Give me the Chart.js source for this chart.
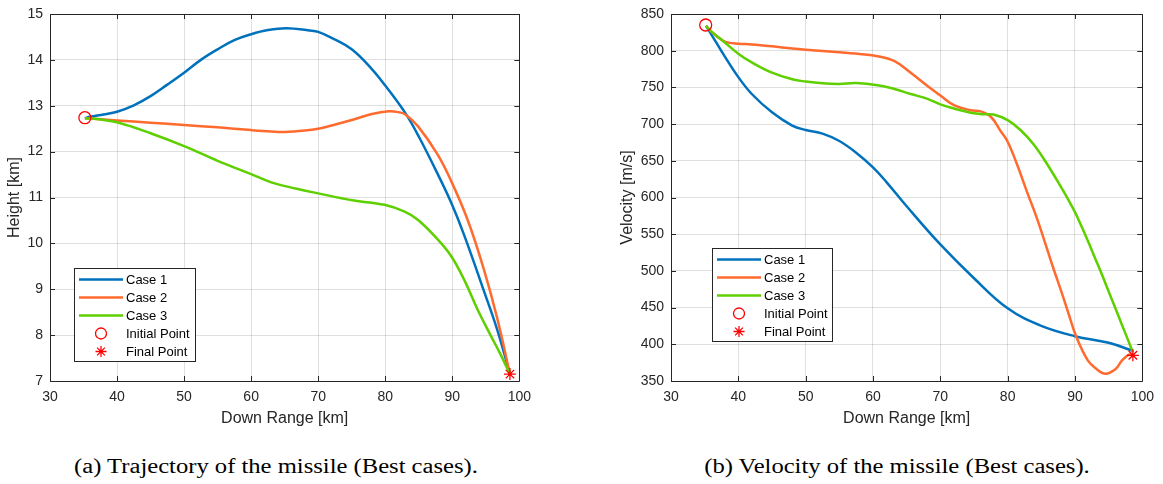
<!DOCTYPE html>
<html>
<head>
<meta charset="utf-8">
<script src="https://cdn.jsdelivr.net/npm/chart.js@4/dist/chart.umd.min.js"></script>
<style>
  body { margin: 0; background: #fff; }
  #page { position: relative; width: 1163px; height: 484px; overflow: hidden; background: #fff; }
  canvas { position: absolute; top: 0; }
  .caption {
    position: absolute; top: 456px; width: 500px; text-align: center;
    font-family: "Liberation Serif", "Times New Roman", serif; font-size: 20px; line-height: 20px;
    color: #000; transform: scaleX(1.23); white-space: nowrap;
  }
</style>
</head>
<body>
<div id="page">
  <canvas id="heightChart" width="540" height="430" style="left:0px"></canvas>
  <canvas id="velocityChart" width="548" height="430" style="left:615px"></canvas>
  <div class="caption" style="left:26px">(a) Trajectory of the missile (Best cases).</div>
  <div class="caption" style="left:647px">(b) Velocity of the missile (Best cases).</div>
</div>
<script>
// ---- (a) height vs down range ----
const h1Range = [35.2, 36, 38, 40, 42.5, 45, 47.5, 50, 52.5, 55, 57.5, 60, 62.5, 65.3, 68.7, 70, 72, 75, 78, 80, 83, 85, 87.8, 89.8, 91.8, 94.7, 96.7, 98.6];
const h1Height = [12.73, 12.76, 12.81, 12.87, 13.01, 13.21, 13.46, 13.72, 14.00, 14.23, 14.43, 14.56, 14.65, 14.69, 14.64, 14.61, 14.48, 14.23, 13.80, 13.44, 12.84, 12.33, 11.52, 10.90, 10.17, 8.97, 8.12, 7.15];

const h2Range = [35.2, 37, 40, 45, 50, 55, 60, 63, 65, 68, 70, 72, 75, 78, 80.5, 82, 83, 84.9, 87.8, 89.8, 92.3, 94.7, 96.7, 98.6];
const h2Height = [12.73, 12.71, 12.68, 12.63, 12.58, 12.53, 12.47, 12.44, 12.43, 12.46, 12.50, 12.57, 12.69, 12.82, 12.88, 12.86, 12.81, 12.55, 11.94, 11.37, 10.51, 9.44, 8.37, 7.15];

const h3Range = [35.2, 37, 40, 45, 50, 55, 60, 63, 66.8, 70, 75.1, 79.9, 82.9, 84.9, 87.8, 89.8, 91.8, 93.7, 95.7, 97.2, 98.6];
const h3Height = [12.73, 12.71, 12.64, 12.40, 12.12, 11.80, 11.51, 11.33, 11.19, 11.09, 10.94, 10.84, 10.69, 10.51, 10.09, 9.73, 9.20, 8.58, 8.00, 7.58, 7.15];

const hInitial = [35.2, 12.74];
const hFinal = [98.6, 7.15];

// ---- (b) velocity vs down range ----
const v1Range = [35.2, 36, 38, 40, 42, 45, 48, 50, 52.5, 55, 57.5, 60, 62, 65, 70, 75, 80, 85, 90, 95, 98.6];
const v1Speed = [834, 822, 792, 764, 741, 716, 698, 692, 687, 677, 661, 641, 621, 588, 536, 490, 449, 425, 411, 402, 391];

const v2Range = [35.2, 36, 37.5, 38.5, 40, 42, 45, 48, 50, 55, 58, 60.7, 63.2, 65.6, 68.1, 70, 72.1, 74.5, 76, 77.5, 79, 80, 81.4, 82.9, 84.3, 85.5, 86.7, 88, 89, 90.2, 91.9, 93.1, 94.5, 96, 97, 98, 98.6];
const v2Speed = [834, 826, 815, 811, 809.5, 808.5, 806, 803, 801.4, 798, 795.5, 792.4, 785.7, 770, 752, 739, 725.4, 718.8, 717.4, 710, 690, 676, 645, 607, 573, 540, 506, 471, 443, 410, 378, 367, 360, 366, 378, 386, 385];

const v3Range = [35.2, 36, 37.5, 40, 42, 45, 48, 50, 52.5, 55, 57.5, 60.7, 63.2, 65.6, 68.1, 70, 72.1, 74.5, 76.5, 77.9, 80, 81.9, 83.9, 85.9, 88, 89, 90, 91, 92, 93, 94, 95, 96, 97, 98, 98.6];
const v3Speed = [834, 826, 815, 796, 784, 770, 761, 758, 755.6, 754.8, 756, 753, 747.8, 741, 734.4, 726.8, 721, 715.6, 713.4, 713, 705.4, 692, 672, 645, 613, 597, 580, 560, 539, 517, 495, 472, 449, 426, 403, 389];

const vInitial = [35.15, 835];
const vFinal = [98.6, 385];

const caseNames = ["Case 1", "Case 2", "Case 3"];
const caseColors = ["#0072BD", "#FF6B2E", "#5ED000"];
const axisColor = "#262626";
const sansFont = '"Liberation Sans", Arial, Helvetica, sans-serif';

function pairs(xs, ys) {
  return xs.map((x, i) => ({ x: x, y: ys[i] }));
}

// MATLAB-like box, inward ticks and legend
const matlabBox = {
  id: "matlabBox",
  afterDraw(chart, args, opts) {
    const ctx = chart.ctx;
    const a = chart.chartArea;
    const xs = chart.scales.x, ys = chart.scales.y;
    ctx.save();
    ctx.strokeStyle = axisColor;
    ctx.lineWidth = 1;
    ctx.beginPath();
    ctx.rect(Math.round(a.left) + 0.5, Math.round(a.top) + 0.5, Math.round(a.right - a.left), Math.round(a.bottom - a.top));
    ctx.stroke();
    const tl = 5;
    ctx.beginPath();
    xs.ticks.forEach(t => {
      const px = Math.round(xs.getPixelForValue(t.value)) + 0.5;
      ctx.moveTo(px, a.bottom); ctx.lineTo(px, a.bottom - tl);
      ctx.moveTo(px, a.top); ctx.lineTo(px, a.top + tl);
    });
    ys.ticks.forEach(t => {
      const py = Math.round(ys.getPixelForValue(t.value)) + 0.5;
      ctx.moveTo(a.left, py); ctx.lineTo(a.left + tl, py);
      ctx.moveTo(a.right, py); ctx.lineTo(a.right - tl, py);
    });
    ctx.stroke();

    // legend
    const L = a.left + opts.left, T = a.top + opts.top;
    const W = opts.width, H = 93, row = 18;
    ctx.fillStyle = "#fff";
    ctx.fillRect(L, T, W, H);
    ctx.strokeStyle = axisColor;
    ctx.strokeRect(Math.round(L) + 0.5, Math.round(T) + 0.5, W, H);
    ctx.font = "13px " + sansFont;
    ctx.textBaseline = "middle";
    ctx.textAlign = "left";
    const labels = caseNames.concat(["Initial Point", "Final Point"]);
    labels.forEach((lab, i) => {
      const y = T + 11.5 + i * row;
      if (i < 3) {
        ctx.strokeStyle = caseColors[i];
        ctx.lineWidth = 2.5;
        ctx.beginPath();
        ctx.moveTo(L + 5, y); ctx.lineTo(L + 49, y);
        ctx.stroke();
      } else if (i === 3) {
        ctx.strokeStyle = "#ff0000";
        ctx.lineWidth = 1.3;
        ctx.beginPath();
        ctx.arc(L + 27, y, 5.5, 0, Math.PI * 2);
        ctx.stroke();
      } else {
        ctx.strokeStyle = "#ff0000";
        ctx.lineWidth = 1.3;
        ctx.beginPath();
        const r = 5.5;
        for (let k = 0; k < 4; k++) {
          const ang = k * Math.PI / 4;
          ctx.moveTo(L + 27 - r * Math.sin(ang), y - r * Math.cos(ang));
          ctx.lineTo(L + 27 + r * Math.sin(ang), y + r * Math.cos(ang));
        }
        ctx.stroke();
      }
      ctx.fillStyle = "#000";
      ctx.fillText(lab, L + 52, y + 0.5);
    });
    ctx.restore();
  }
};

function makeChart(id, series, initial, final, yOpts, yTitle, yWidth, padRight, legendPos, titlePad) {
  const datasets = series.map((s, i) => ({
    label: caseNames[i],
    data: pairs(s[0], s[1]),
    borderColor: caseColors[i],
    borderWidth: 2.5,
    pointRadius: 0,
    fill: false,
    tension: 0.4,
    order: 3 - i
  }));
  datasets.push({
    label: "Initial Point",
    data: [{ x: initial[0], y: initial[1] }],
    showLine: false,
    pointStyle: "circle",
    pointRadius: 6,
    pointBorderWidth: 1.3,
    pointBorderColor: "#ff0000",
    pointBackgroundColor: "rgba(0,0,0,0)",
    order: 0
  });
  datasets.push({
    label: "Final Point",
    data: [{ x: final[0], y: final[1] }],
    showLine: false,
    pointStyle: "star",
    pointRadius: 6,
    pointBorderWidth: 1.3,
    pointBorderColor: "#ff0000",
    pointBackgroundColor: "#ff0000",
    order: 0
  });

  return new Chart(document.getElementById(id), {
    type: "line",
    data: { datasets: datasets },
    plugins: [matlabBox],
    options: {
      responsive: false,
      animation: false,
      layout: { padding: { top: 7, right: padRight, bottom: 0, left: 0 } },
      plugins: {
        legend: { display: false },
        tooltip: { enabled: false },
        matlabBox: legendPos
      },
      scales: {
        x: {
          type: "linear",
          min: 30, max: 100,
          afterFit: s => { s.height = 49; },
          ticks: { stepSize: 10, padding: 9, color: axisColor, font: { family: sansFont, size: 14, lineHeight: 1 } },
          grid: { color: "rgba(38,38,38,0.15)", drawTicks: false },
          border: { display: false },
          title: { display: true, text: "Down Range [km]", color: axisColor, font: { family: sansFont, size: 16 }, padding: { top: 0, bottom: 2 } }
        },
        y: {
          type: "linear",
          min: yOpts.min, max: yOpts.max,
          afterFit: s => { s.width = yWidth; },
          ticks: { stepSize: yOpts.step, padding: 7, color: axisColor, font: { family: sansFont, size: 14, lineHeight: 1 } },
          grid: { color: "rgba(38,38,38,0.15)", drawTicks: false },
          border: { display: false },
          title: { display: true, text: yTitle, color: axisColor, font: { family: sansFont, size: 16 }, padding: { top: titlePad, bottom: 0 } }
        }
      }
    }
  });
}

makeChart("heightChart",
  [[h1Range, h1Height], [h2Range, h2Height], [h3Range, h3Height]],
  hInitial, hFinal,
  { min: 7, max: 15, step: 1 }, "Height [km]", 50, 15,
  { left: 24, top: 254, width: 121 }, 5);

makeChart("velocityChart",
  [[v1Range, v1Speed], [v2Range, v2Speed], [v3Range, v3Speed]],
  vInitial, vFinal,
  { min: 350, max: 850, step: 50 }, "Velocity [m/s]", 56, 17,
  { left: 41, top: 234, width: 120 }, 3);
</script>
</body>
</html>
